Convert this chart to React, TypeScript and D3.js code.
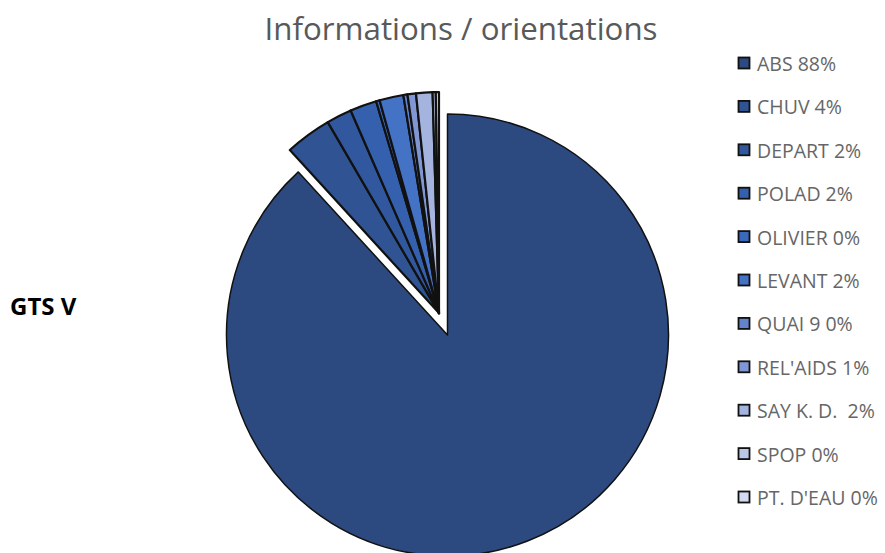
import React from "react";
import * as d3 from "d3";

const categories = ["ABS", "CHUV", "DEPART", "POLAD", "OLIVIER", "LEVANT", "QUAI 9", "REL'AIDS", "SAY K. D. ", "SPOP", "PT. D'EAU"];
const shares = ["88%", "4%", "2%", "2%", "0%", "2%", "0%", "1%", "2%", "0%", "0%"];
const values = [88.2, 3.4, 1.85, 1.95, 0.26, 1.75, 0.3, 0.62, 1.2, 0.23, 0.23];
const colors = ["#2c4a80", "#2f5393", "#31589e", "#3560ad", "#3a69bc", "#4472c4", "#6384cb", "#8197d3", "#a5b4df", "#b9c6e7", "#d3dbf0"];
const title = "Informations / orientations";
const sideLabel = "GTS V";

const W = 885;
const H = 553;
const cx = 447.5;
const cy = 335;
const R = 221;
const explode = 23.5;

export default function App() {
  const pie = d3.pie<number>().sort(null).value((d) => d);
  const arcs = pie(values);
  const arc = d3.arc<d3.PieArcDatum<number>>().innerRadius(0).outerRadius(R);
  const small = arcs.slice(1);
  const mid = (small[0].startAngle + small[small.length - 1].endAngle) / 2;
  const ox = Math.sin(mid) * explode;
  const oy = -Math.cos(mid) * explode;
  const font = "'Open Sans', sans-serif";
  const legendY = d3.scalePoint<number>().domain(d3.range(categories.length)).range([63, 497]);

  return (
    <svg width={W} height={H} style={{ position: "absolute", left: 0, top: 0, background: "#fff" }}>
      <text x={461} y={28} textAnchor="middle" dominantBaseline="central" fontFamily={font} fontSize={31.3} fill="#595959">{title}</text>
      <text x={10} y={305} dominantBaseline="central" fontFamily={font} fontWeight="bold" fontSize={24} fill="#000">{sideLabel}</text>
      <g transform={`translate(${cx},${cy})`}>
        <path d={arc(arcs[0]) || ""} fill={colors[0]} stroke="#111" strokeWidth={1.5} strokeLinejoin="round" />
      </g>
      <g transform={`translate(${cx + ox},${cy + oy})`}>
        {small.map((a, i) => (
          <path key={i} d={arc(a) || ""} fill={colors[i + 1]} stroke="#111" strokeWidth={2.2} strokeLinejoin="round" />
        ))}
      </g>
      {categories.map((c, i) => (
        <g key={c} transform={`translate(738,${legendY(i)})`}>
          <rect x={0.5} y={-5.5} width={11} height={11} fill={colors[i]} stroke="#111" strokeWidth={1.8} />
          <text x={19} y={0.5} dominantBaseline="central" fontFamily={font} fontSize={19.5} fill="#666" style={{ whiteSpace: "pre" }}>
            {`${c} ${shares[i]}`}
          </text>
        </g>
      ))}
    </svg>
  );
}
